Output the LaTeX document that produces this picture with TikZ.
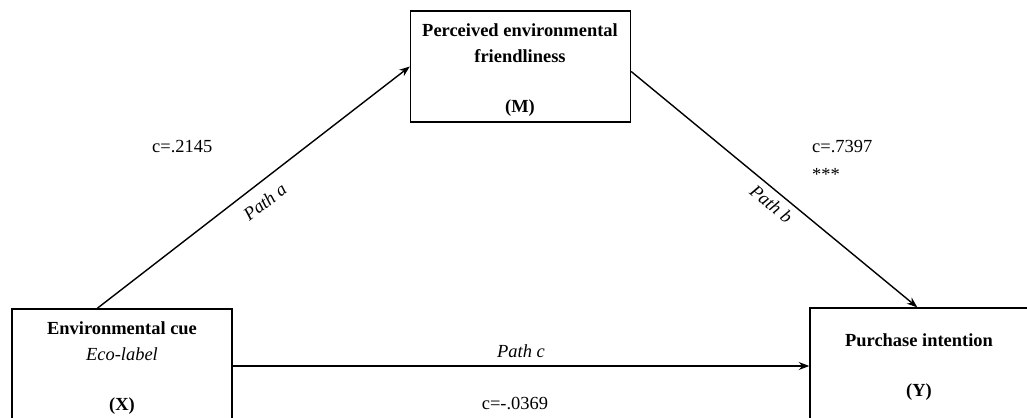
\documentclass[tikz,border=0pt]{standalone}
\usepackage{fontspec}
\setmainfont{Liberation Serif}
\usetikzlibrary{arrows.meta}

\begin{document}
\begin{tikzpicture}[
  x=0.02cm, y=-0.02cm,
  box/.style={draw, line width=0.8pt, inner sep=0pt},
  path/.style={line width=0.8pt, -{Stealth[length=6pt, width=4.5pt]}},
  head/.style={font=\fontsize{10.5}{12}\selectfont\bfseries},
  coef/.style={font=\fontsize{10.5}{12}\selectfont, anchor=west},
  pathlbl/.style={font=\fontsize{10.5}{12}\selectfont\itshape},
]
\useasboundingbox (0,0) rectangle (1027,418);

\node[box, minimum width=4.4cm, minimum height=2.22cm] (M) at (520.5,66.5) {};
\node[box, minimum width=4.4cm, minimum height=2.28cm] (X) at (122,366) {};
\node[box, minimum width=5cm, minimum height=2.32cm] (Y) at (935,366) {};

\node[head] (m1) at (520,30) {Perceived environmental};
\node[head] (m2) at (520,56) {friendliness};
\node[head] (m3) at (520,108) {(M)};

\node[head] (x1) at (122,328) {Environmental cue};
\node[pathlbl] (x2) at (122,354) {Eco-label};
\node[head] (x3) at (122,406) {(X)};

\node[head] (y1) at (919,340) {Purchase intention};
\node[head] (y3) at (919,392) {(Y)};

\draw[path] ([xshift=1.72cm]X.north west) -- (M.west)
  node[pathlbl, midway, sloped, below=3pt] (pa) {Path a};
\draw[path] ([yshift=-0.1cm]M.east) -- ([xshift=2.16cm]Y.north west)
  node[pathlbl, midway, sloped, below=0pt, xshift=4pt] (pb) {Path b};
\draw[path] (X.east) -- (Y.west)
  node[pathlbl, midway, above=1pt] (pc) {Path c};

\node[coef] (ca) at (146,147) {c=.2145};
\node[coef] (cb) at (806,147) {c=.7397};
\node[coef] (cs) at (806,174) {***};
\node[coef, anchor=center] (cc) at (515,403) {c=-.0369};
\end{tikzpicture}
\end{document}
